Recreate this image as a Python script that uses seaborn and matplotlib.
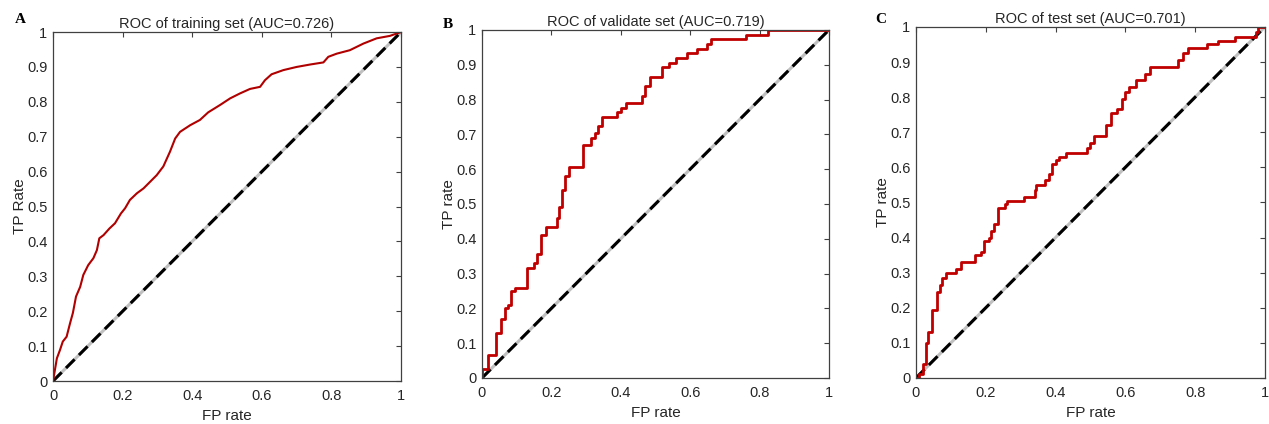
import matplotlib
matplotlib.use("Agg")
import matplotlib.pyplot as plt
import matplotlib.ticker as mticker
import seaborn as sns
import pandas as pd

# ------------------------------
# Données lues sur les courbes ROC
train_fpr = [0, 0.011, 0.02, 0.028, 0.039, 0.049, 0.057, 0.066, 0.078, 0.087, 0.101,
             0.116, 0.126, 0.133, 0.145, 0.162, 0.178, 0.195, 0.207, 0.221, 0.241,
             0.26, 0.279, 0.298, 0.317, 0.336, 0.351, 0.365, 0.394, 0.422, 0.446,
             0.48, 0.509, 0.537, 0.566, 0.595, 0.609, 0.628, 0.662, 0.70, 0.739,
             0.777, 0.791, 0.815, 0.853, 0.892, 0.93, 0.968, 0.997, 1.0]
train_tpr = [0, 0.065, 0.089, 0.113, 0.127, 0.166, 0.195, 0.242, 0.27, 0.304, 0.332,
             0.352, 0.375, 0.409, 0.418, 0.437, 0.452, 0.48, 0.495, 0.519, 0.538,
             0.552, 0.571, 0.59, 0.615, 0.657, 0.695, 0.714, 0.733, 0.748, 0.77,
             0.791, 0.81, 0.824, 0.837, 0.843, 0.862, 0.879, 0.891, 0.90, 0.907,
             0.913, 0.929, 0.938, 0.948, 0.967, 0.982, 0.989, 0.999, 1.0]

valid_fpr = [0, 0, 0.017, 0.04, 0.056, 0.065, 0.075, 0.085, 0.095, 0.13, 0.15, 0.16,
             0.17, 0.185, 0.215, 0.222, 0.232, 0.24, 0.25, 0.29, 0.315, 0.325, 0.335,
             0.346, 0.39, 0.40, 0.415, 0.46, 0.47, 0.485, 0.52, 0.54, 0.56, 0.59, 0.62,
             0.65, 0.66, 0.76, 0.825, 1.0]
valid_tpr = [0, 0.025, 0.065, 0.13, 0.17, 0.20, 0.21, 0.25, 0.26, 0.315, 0.33, 0.355,
             0.41, 0.435, 0.46, 0.49, 0.54, 0.58, 0.605, 0.67, 0.69, 0.705, 0.725,
             0.75, 0.765, 0.775, 0.79, 0.81, 0.84, 0.865, 0.895, 0.905, 0.92, 0.935,
             0.945, 0.96, 0.975, 0.985, 1.0, 1.0]

test_fpr = [0, 0.01, 0.02, 0.03, 0.035, 0.045, 0.06, 0.068, 0.075, 0.085, 0.115, 0.13,
            0.17, 0.185, 0.195, 0.21, 0.215, 0.225, 0.235, 0.255, 0.26, 0.31, 0.34,
            0.345, 0.37, 0.38, 0.39, 0.40, 0.41, 0.43, 0.49, 0.50, 0.51, 0.545, 0.56,
            0.575, 0.59, 0.60, 0.61, 0.63, 0.655, 0.67, 0.75, 0.765, 0.78, 0.835,
            0.865, 0.915, 0.975, 0.98, 1.0]
test_tpr = [0, 0.01, 0.04, 0.10, 0.13, 0.195, 0.245, 0.265, 0.285, 0.30, 0.31, 0.33,
            0.35, 0.36, 0.39, 0.40, 0.42, 0.44, 0.485, 0.495, 0.505, 0.515, 0.535,
            0.55, 0.565, 0.58, 0.61, 0.62, 0.63, 0.64, 0.655, 0.67, 0.69, 0.72, 0.755,
            0.765, 0.795, 0.815, 0.83, 0.85, 0.865, 0.885, 0.905, 0.925, 0.94, 0.95,
            0.96, 0.97, 0.985, 1.0, 1.0]

panels = [
    ("A", "ROC of training set (AUC=0.726)", "TP Rate", train_fpr, train_tpr, "default", 1.5),
    ("B", "ROC of validate set (AUC=0.719)", "TP rate", valid_fpr, valid_tpr, "steps-post", 2.0),
    ("C", "ROC of test set (AUC=0.701)", "TP rate", test_fpr, test_tpr, "steps-post", 2.0),
]

# ------------------------------
sns.set_style("white")
plt.rcParams['font.family'] = ['Liberation Sans', 'DejaVu Sans']

fig = plt.figure(figsize=(12.69, 4.24), dpi=100)
positions = [
    [0.0418, 0.1014, 0.2742, 0.823],
    [0.3798, 0.1085, 0.2734, 0.8208],
    [0.7218, 0.1085, 0.2750, 0.828],
]
letter_pos = [(0.012, 0.945), (0.349, 0.935), (0.690, 0.945)]

axis_color = "#404040"
for (letter, title, ylab, fpr, tpr, style, lw), pos, lp in zip(panels, positions, letter_pos):
    ax = fig.add_axes(pos)
    df = pd.DataFrame({"fpr": fpr, "tpr": tpr})
    diag = pd.DataFrame({"fpr": [0, 1], "tpr": [0, 1]})

    sns.lineplot(data=diag, x="fpr", y="tpr", ax=ax, color="#c0c0c0", linewidth=2.2)
    sns.lineplot(data=diag, x="fpr", y="tpr", ax=ax, color="black", linewidth=2.2,
                 linestyle=(0, (4, 2)))
    sns.lineplot(data=df, x="fpr", y="tpr", ax=ax, sort=False, estimator=None,
                 color="#c00000" if lw > 1.8 else "#b00000", linewidth=lw,
                 drawstyle=style)

    ax.set_xlim(0, 1)
    ax.set_ylim(0, 1)
    ax.set_xticks([0, 0.2, 0.4, 0.6, 0.8, 1])
    ax.set_yticks([0, 0.1, 0.2, 0.3, 0.4, 0.5, 0.6, 0.7, 0.8, 0.9, 1])
    fmt = mticker.FuncFormatter(lambda v, p: f"{v:g}")
    ax.xaxis.set_major_formatter(fmt)
    ax.yaxis.set_major_formatter(fmt)
    ax.tick_params(direction="in", top=True, right=True, length=3.5, width=0.8,
                   colors=axis_color, labelsize=10.5, labelcolor="#262626", pad=4)
    ax.tick_params(axis="x", pad=6)
    for s in ax.spines.values():
        s.set_color(axis_color)
        s.set_linewidth(0.9)

    ax.set_title(title, fontsize=10.5, color="#262626", pad=3)
    ax.set_xlabel("FP rate", fontsize=11, color="#262626", labelpad=4)
    ax.set_ylabel(ylab, fontsize=11, color="#262626", labelpad=0)

    fig.text(lp[0], lp[1], letter, fontsize=11, fontweight="bold",
             family=["Liberation Serif", "DejaVu Serif"], color="black")

fig.savefig("out.png", dpi=100)
